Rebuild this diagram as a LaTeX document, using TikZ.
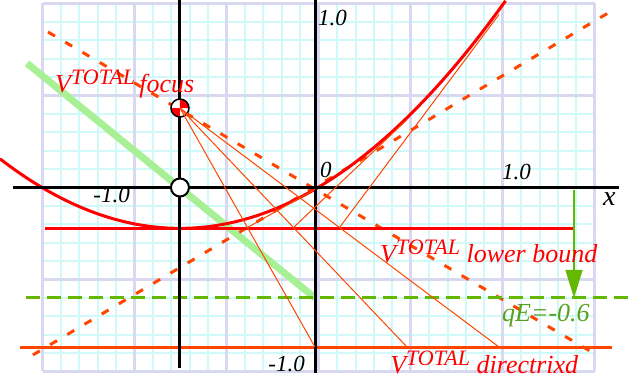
\documentclass[tikz,border=0pt]{standalone}
\usepackage{fontspec}
\setmainfont{Liberation Serif}
\usetikzlibrary{arrows.meta,calc}
\definecolor{gminorc}{RGB}{208,250,250}
\definecolor{gmajorc}{RGB}{216,216,240}
\definecolor{ored}{RGB}{255,69,0}
\definecolor{lgreen}{RGB}{168,240,150}
\definecolor{qgreen}{RGB}{100,184,0}
\definecolor{qtext}{RGB}{88,160,30}
\newcommand{\vtot}{{\fontsize{26}{30}\selectfont V}\raisebox{8pt}{\fontsize{22}{26}\selectfont TOTAL}}
\begin{document}
\begin{tikzpicture}[x=184pt,y=184pt,
  gminor/.style={gminorc,line width=2pt},
  gmajor/.style={gmajorc,line width=3pt},
  vcurve/.style={red,line width=3pt},
  thinln/.style={ored,line width=1pt},
  dashln/.style={ored,line width=3pt,dash pattern=on 8pt off 12pt},
  qeline/.style={qgreen,line width=3pt,dash pattern=on 14pt off 7pt},
  axisln/.style={black,line width=3pt},
  lbl/.style={inner sep=0pt,font=\itshape\fontsize{23}{27}\selectfont},
  rlbl/.style={inner sep=0pt,red,font=\itshape\fontsize{26}{30}\selectfont}]
\useasboundingbox (-1.712,-1.0516) rectangle (1.7663,1.019);
% grid
\foreach \i in {0,...,30} \draw[gminor] ({-1.48+0.1*\i},-1) -- ({-1.48+0.1*\i},1);
\foreach \j in {0,...,20} \draw[gminor] (-1.48,{-1+0.1*\j}) -- (1.52,{-1+0.1*\j});
\foreach \i in {0,...,6} \draw[gmajor] ({-1.48+0.5*\i},-1) -- ({-1.48+0.5*\i},1);
\foreach \j in {0,...,4} \draw[gmajor] (-1.48,{-1+0.5*\j}) -- (1.52,{-1+0.5*\j});
% key points
\coordinate (F) at (-0.734,0.432);
\coordinate (O) at (0,0);
\coordinate (C) at (-0.734,0);
\coordinate (D1) at (0,-0.867);
\coordinate (D2) at (0.5,-0.867);
\coordinate (D3) at (1.0,-0.867);
\coordinate (M1) at ($(F)!0.5!(D1)$);
\coordinate (M2) at ($(F)!0.5!(D2)$);
\coordinate (M3) at ($(F)!0.5!(D3)$);
\coordinate (P1) at (0,-0.0101);
\coordinate (P2) at (0.5,0.3688);
\coordinate (P3) at (1.0,0.940);
% green potential line
\coordinate (g1) at (-1.565,0.675);
\coordinate (g2) at (0,-0.6);
\draw[lgreen,line width=7pt] (g1) -- (g2);
% dashed lines
\coordinate (da1) at (-1.451,0.845);
\coordinate (da2) at (1.495,-0.889);
\coordinate (db1) at (-1.533,-0.910);
\coordinate (db2) at (1.592,0.948);
\draw[dashln] (da1) -- (da2);
\draw[dashln] (db1) -- (db2);
% horizontal lines
\coordinate (lb1) at (-1.467,-0.222);
\coordinate (lb2) at (1.413,-0.222);
\draw[red,line width=3pt] (lb1) -- (lb2);
\coordinate (dx1) at (-1.603,-0.867);
\coordinate (dx2) at (1.614,-0.867);
\draw[ored,line width=3pt] (dx1) -- (dx2);
\coordinate (q1) at (-1.571,-0.6);
\coordinate (q2) at (1.728,-0.6);
\draw[qeline] (q1) -- (q2);
% arrow to qE
\coordinate (ar1) at (1.4076,-0.012);
\coordinate (ar2) at (1.4076,-0.6);
\draw[qgreen,line width=1.5pt,-{Triangle[length=28pt,width=17pt]}] (ar1) -- (ar2);
% curve
\draw[vcurve] plot[domain=-1.712:1.036,samples=120] (\x,{-0.222+0.395*(\x+0.734)^2});
% axes
\coordinate (xa1) at (-1.641,0);
\coordinate (xa2) at (1.652,0);
\coordinate (ya1) at (0,1.02);
\coordinate (ya2) at (0,-1.008);
\coordinate (fa1) at (-0.734,1.02);
\coordinate (fa2) at (-0.734,-0.981);
\draw[axisln] (xa1) -- (xa2);
\draw[axisln] (ya1) -- (ya2);
\draw[axisln] (fa1) -- (fa2);
% markers
\draw[black,line width=2pt,fill=white] (C) circle[radius=9pt];
\fill[white] (F) circle[radius=9pt];
\fill[red] (F) -- ++(9pt,0) arc[start angle=0,end angle=90,radius=9pt] -- cycle;
\fill[red] (F) -- ++(-9pt,0) arc[start angle=180,end angle=270,radius=9pt] -- cycle;
\draw[black,line width=1.5pt] (F) circle[radius=9pt];
% construction lines
\draw[thinln] (F) -- (D1);
\draw[thinln] (F) -- (D2);
\draw[thinln] (F) -- (D3);
\draw[thinln] (M1) -- (P1);
\draw[thinln] (M2) -- (P2);
\draw[thinln] (M3) -- (P3);
% labels
\node[lbl,anchor=base west] (ly1) at (0.016,0.883) {1.0};
\node[lbl,anchor=base east] (ly2) at (-0.054,-1.0) {-1.0};
\node[lbl,anchor=base east] (lx1) at (-1.005,-0.084) {-1.0};
\node[lbl,anchor=base west] (lx2) at (1.016,0.041) {1.0};
\node[lbl,anchor=base west] (l0) at (0.027,0.052) {0};
\node[lbl,anchor=base west,font=\itshape\fontsize{28}{32}\selectfont] (lxx) at (1.565,-0.10) {x};
\node[rlbl,anchor=base west] (lf) at (-1.413,0.519) {\vtot\,focus};
\node[rlbl,anchor=base west] (llb) at (0.353,-0.410) {\vtot{} lower bound};
\node[rlbl,anchor=base west] (ld) at (0.408,-1.0136) {\vtot{} directrixd};
\node[inner sep=0pt,qtext,anchor=base west,font=\itshape\fontsize{26}{30}\selectfont] (lq) at (1.016,-0.731) {qE=-0.6};
\end{tikzpicture}
\end{document}
